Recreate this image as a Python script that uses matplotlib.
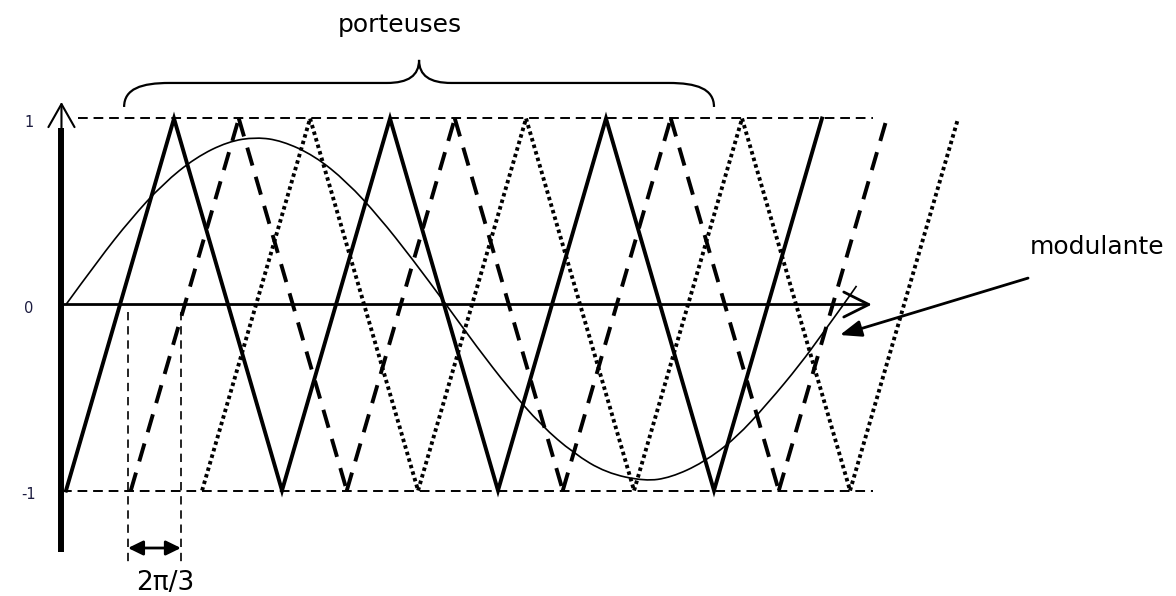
import matplotlib
matplotlib.use("Agg")
import matplotlib.pyplot as plt
from matplotlib.path import Path
from matplotlib.patches import PathPatch

# x in carrier periods, y in per-unit (carrier peaks at +/-1)
# carrier triangle vertices
solid_x = [0.0, 0.5, 1.0, 1.5, 2.0, 2.5, 3.0, 3.5]
solid_y = [-1, 1, -1, 1, -1, 1, -1, 1]
dashed_x = [0.30, 0.80, 1.30, 1.80, 2.30, 2.80, 3.30, 3.80]
dashed_y = [-1, 1, -1, 1, -1, 1, -1, 1]
dotted_x = [0.63, 1.13, 1.63, 2.13, 2.63, 3.13, 3.63, 4.13]
dotted_y = [-1, 1, -1, 1, -1, 1, -1, 1]

# modulating wave, points
mod_x = [0.0, 0.15, 0.3, 0.45, 0.6, 0.75, 0.88, 1.0, 1.15, 1.3, 1.45, 1.6, 1.76,
         1.9, 2.05, 2.2, 2.35, 2.5, 2.68, 2.8, 2.95, 3.1, 3.25, 3.4, 3.5, 3.6, 3.66]
mod_y = [0.0, 0.24, 0.46, 0.65, 0.79, 0.876, 0.90, 0.88, 0.80, 0.66, 0.47, 0.25, 0.0,
         -0.225, -0.45, -0.65, -0.80, -0.905, -0.95, -0.93, -0.85, -0.72, -0.53, -0.32, -0.16, 0.0, 0.1]

level_ticks = [1, 0, -1]
level_labels = ["1", "0", "-1"]

# phase shift marker between two carriers
shift_x = [0.287, 0.532]

fig = plt.figure(figsize=(11.76, 5.96), dpi=100)
ax = fig.add_axes([0, 0, 1, 1])
ax.set_xlim(-0.3056, 5.139)
ax.set_ylim(-1.567, 1.637)
ax.axis("off")

# carriers (dashed / dotted drawn leg by leg so every vertex gets a mark)
ax.plot(solid_x, solid_y, color="black", lw=2.8, solid_joinstyle="miter")
for i in range(len(dashed_x) - 1):
    ax.plot(dashed_x[i:i + 2], dashed_y[i:i + 2], color="black", lw=2.8,
            linestyle=(0, (4.8, 3.0)))
for i in range(len(dotted_x) - 1):
    ax.plot(dotted_x[i:i + 2], dotted_y[i:i + 2], color="black", lw=2.8,
            linestyle=(0, (0.9, 0.85)))

# modulante: smooth curve through the read points (quadratic segments via midpoints)
pts = list(zip(mod_x, mod_y))
verts = [pts[0]]
codes = [Path.MOVETO]
for i in range(1, len(pts) - 1):
    mid = ((pts[i][0] + pts[i + 1][0]) / 2, (pts[i][1] + pts[i + 1][1]) / 2)
    verts += [pts[i], mid]
    codes += [Path.CURVE3, Path.CURVE3]
verts.append(pts[-1])
codes.append(Path.LINETO)
ax.add_patch(PathPatch(Path(verts, codes), facecolor="none", edgecolor="black", lw=1.2))

# +1 / -1 reference lines
ax.plot([0.056, 3.736], [1, 1], color="black", lw=1.4, linestyle=(0, (5, 3)))
ax.plot([-0.019, 3.736], [-1, -1], color="black", lw=1.4, linestyle=(0, (5, 3)))

# axes drawn by hand
ax.plot([-0.021, -0.021], [-1.331, 0.949], color="black", lw=4.3, solid_capstyle="butt")
ax.annotate("", xy=(-0.021, 1.089), xytext=(-0.021, 0.93),
            arrowprops=dict(arrowstyle="->,head_length=0.83,head_width=0.47",
                            lw=1.5, color="black", shrinkA=0, shrinkB=0, mutation_scale=20))
ax.annotate("", xy=(3.731, 0), xytext=(-0.01, 0),
            arrowprops=dict(arrowstyle="->,head_length=0.9,head_width=0.45",
                            lw=2.0, color="black", shrinkA=0, shrinkB=0, mutation_scale=20))

for v, lab in zip(level_ticks, level_labels):
    ax.text(-0.172, v - 0.02, lab, fontsize=10.5, color="#1c1c40", ha="center", va="center")

# 2pi/3 marker
for sx in shift_x:
    ax.plot([sx, sx], [-0.04, -1.39], color="black", lw=1.2, linestyle=(0, (5, 3.5)))
ax.annotate("", xy=(shift_x[1], -1.309), xytext=(shift_x[0], -1.309),
            arrowprops=dict(arrowstyle="<|-|>,head_length=0.45,head_width=0.22",
                            lw=2.0, color="black", shrinkA=0, shrinkB=0, mutation_scale=20))
ax.text(sum(shift_x) / 2 + 0.05, -1.427, "2\u03c0/3", fontsize=19, ha="center", va="top")

# modulante label
ax.text(4.463, 0.309, "modulante", fontsize=18, ha="left", va="center")
ax.annotate("", xy=(3.583, -0.164), xytext=(4.454, 0.142),
            arrowprops=dict(arrowstyle="-|>,head_length=0.65,head_width=0.25",
                            lw=2.0, color="black", shrinkA=0, shrinkB=0, mutation_scale=20))

# brace over the carriers
bl, br = 0.269, 3.0
bc = (bl + br) / 2
y_end, y_mid, y_tip = 1.062, 1.191, 1.315
bverts = [(bl, y_end), (bl, 1.16), (bl + 0.08, y_mid), (bl + 0.21, y_mid),
          (bc - 0.15, y_mid),
          (bc - 0.05, y_mid), (bc, 1.23), (bc, y_tip),
          (bc, 1.23), (bc + 0.05, y_mid), (bc + 0.15, y_mid),
          (br - 0.21, y_mid),
          (br - 0.08, y_mid), (br, 1.16), (br, y_end)]
bcodes = [Path.MOVETO, Path.CURVE4, Path.CURVE4, Path.CURVE4,
          Path.LINETO,
          Path.CURVE4, Path.CURVE4, Path.CURVE4,
          Path.CURVE4, Path.CURVE4, Path.CURVE4,
          Path.LINETO,
          Path.CURVE4, Path.CURVE4, Path.CURVE4]
ax.add_patch(PathPatch(Path(bverts, bcodes), facecolor="none", edgecolor="black", lw=1.6))
ax.text(bc - 0.09, 1.50, "porteuses", fontsize=18, ha="center", va="center")

fig.savefig("out.png", dpi=100)
